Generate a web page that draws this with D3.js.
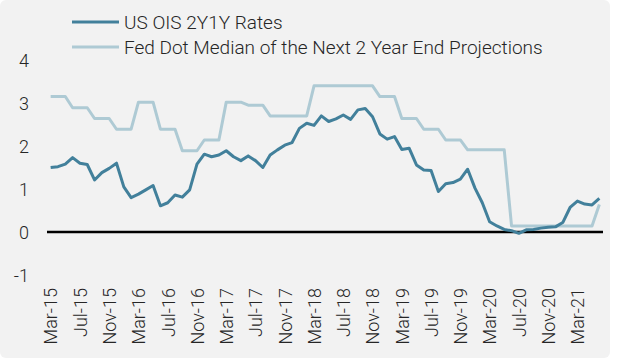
<!DOCTYPE html>
<html><head><meta charset="utf-8">
<script src="https://cdn.jsdelivr.net/npm/d3@7"></script>
<style>
html,body{margin:0;padding:0;background:#ffffff;}
svg{display:block;font-family:Roboto,"Open Sans",sans-serif;}
</style></head>
<body><svg id="chart" width="617" height="360"></svg>
<script>
const months = [
"Mar-15","Apr-15","May-15","Jun-15","Jul-15","Aug-15","Sep-15","Oct-15","Nov-15","Dec-15",
"Jan-16","Feb-16","Mar-16","Apr-16","May-16","Jun-16","Jul-16","Aug-16","Sep-16","Oct-16",
"Nov-16","Dec-16","Jan-17","Feb-17","Mar-17","Apr-17","May-17","Jun-17","Jul-17","Aug-17",
"Sep-17","Oct-17","Nov-17","Dec-17","Jan-18","Feb-18","Mar-18","Apr-18","May-18","Jun-18",
"Jul-18","Aug-18","Sep-18","Oct-18","Nov-18","Dec-18","Jan-19","Feb-19","Mar-19","Apr-19",
"May-19","Jun-19","Jul-19","Aug-19","Sep-19","Oct-19","Nov-19","Dec-19","Jan-20","Feb-20",
"Mar-20","Apr-20","May-20","Jun-20","Jul-20","Aug-20","Sep-20","Oct-20","Nov-20","Dec-20",
"Jan-21","Feb-21","Mar-21","Apr-21","May-21","Jun-21"];

const oisRates = [
1.50,1.52,1.58,1.73,1.60,1.57,1.21,1.38,1.48,1.60,
1.05,0.80,0.88,0.98,1.08,0.61,0.68,0.86,0.81,0.98,
1.58,1.81,1.75,1.79,1.89,1.75,1.66,1.77,1.66,1.50,
1.79,1.91,2.02,2.08,2.41,2.53,2.48,2.70,2.57,2.63,
2.72,2.62,2.84,2.87,2.68,2.28,2.16,2.22,1.92,1.95,
1.56,1.44,1.43,0.94,1.12,1.15,1.23,1.46,1.02,0.68,
0.24,0.14,0.06,0.03,-0.03,0.05,0.06,0.09,0.11,0.12,
0.22,0.57,0.72,0.65,0.63,0.78];

const fedDots = [
3.15,3.15,3.15,2.89,2.89,2.89,2.64,2.64,2.64,2.39,
2.39,2.39,3.02,3.02,3.02,2.39,2.39,2.39,1.89,1.89,
1.89,2.14,2.14,2.14,3.02,3.02,3.02,2.95,2.95,2.95,
2.70,2.70,2.70,2.70,2.70,2.70,3.40,3.40,3.40,3.40,
3.40,3.40,3.40,3.40,3.40,3.15,3.15,3.15,2.64,2.64,
2.64,2.39,2.39,2.39,2.14,2.14,2.14,1.91,1.91,1.91,
1.91,1.91,1.91,0.14,0.14,0.14,0.14,0.14,0.14,0.14,
0.14,0.14,0.14,0.14,0.14,0.64];

const xTickLabels = ["Mar-15","Jul-15","Nov-15","Mar-16","Jul-16","Nov-16","Mar-17","Jul-17","Nov-17","Mar-18","Jul-18","Nov-18","Mar-19","Jul-19","Nov-19","Mar-20","Jul-20","Nov-20","Mar-21"];
const yTicks = [-1,0,1,2,3,4];
const seriesNames = ["US OIS 2Y1Y Rates","Fed Dot Median of the Next 2 Year End Projections"];
const seriesColors = ["#42809b","#aecad4"];

const svg = d3.select("#chart");
svg.append("rect").attr("x",0).attr("y",0).attr("width",610).attr("height",358)
  .attr("rx",6).attr("fill","#f2f2f2");

const x = d3.scalePoint().domain(months).range([47,603]).padding(0.5);
const y = d3.scaleLinear().domain([-1,4]).range([275,60]);

// Y axis
const yAxis = svg.append("g").attr("transform","translate(29,0)")
  .call(d3.axisLeft(y).tickValues(yTicks).tickSize(0).tickPadding(0).tickFormat(d=>String(d)));
yAxis.select(".domain").remove();
yAxis.selectAll("text").attr("fill","#262626").style("font-size","18px")
  .style("font-family","Roboto").style("font-weight","300").attr("x",0).attr("dy","0.35em");

// X axis labels
const xAxis = svg.append("g").attr("transform","translate(0,288)")
  .call(d3.axisBottom(x).tickValues(xTickLabels).tickSize(0));
xAxis.select(".domain").remove();
xAxis.selectAll("text").attr("fill","#262626").style("font-size","18px")
  .style("font-family","Roboto").style("font-weight","300")
  .attr("transform","rotate(-90)").attr("x",0).attr("y",0).attr("dy","0.35em")
  .attr("text-anchor","end");

// Zero line
svg.append("line").attr("x1",47).attr("x2",603).attr("y1",y(0)).attr("y2",y(0))
  .attr("stroke","#000").attr("stroke-width",2.5);

const line = d3.line().x((d,i)=>x(months[i])).y(d=>y(d));
svg.append("path").datum(fedDots).attr("d",line).attr("fill","none")
  .attr("stroke",seriesColors[1]).attr("stroke-width",3).attr("stroke-linejoin","round");
svg.append("path").datum(oisRates).attr("d",line).attr("fill","none")
  .attr("stroke",seriesColors[0]).attr("stroke-width",3).attr("stroke-linejoin","round");

// Legend
const legend = svg.append("g");
seriesNames.forEach((name,i)=>{
  const ly = 22 + i*25;
  legend.append("line").attr("x1",72).attr("x2",119).attr("y1",ly).attr("y2",ly)
    .attr("stroke",seriesColors[i]).attr("stroke-width",3);
  legend.append("text").attr("x",124).attr("y",ly).attr("dy","0.35em")
    .attr("fill","#262626").style("font-size","19px").style("font-family","Roboto")
    .style("font-weight","300").text(name);
});
</script></body></html>
